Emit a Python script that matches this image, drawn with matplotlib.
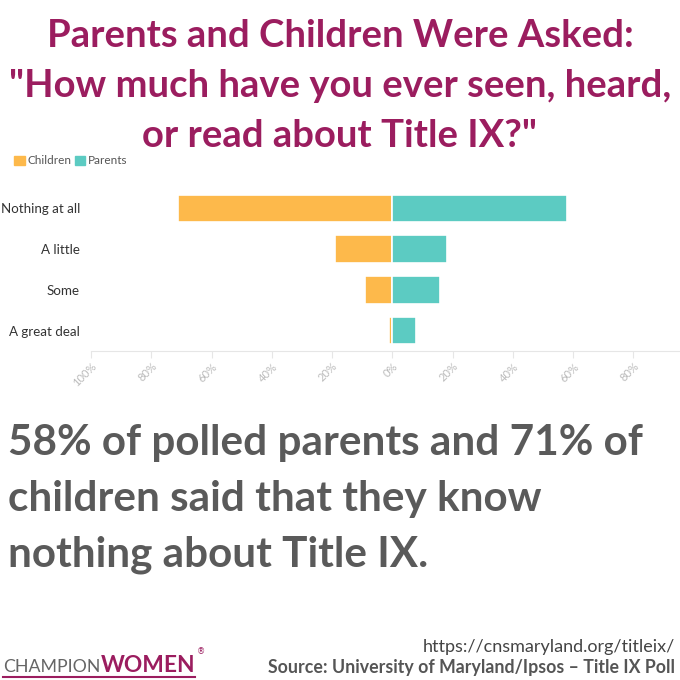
import numpy as np
import matplotlib.pyplot as plt
from matplotlib.patches import Patch

# Dane (procenty)
categories = ['Nothing at all', 'A little', 'Some', 'A great deal']
children = [71, 19, 9, 1]
parents = [58, 18, 16, 8]
ticks = [-100, -80, -60, -40, -20, 0, 20, 40, 60, 80]
tick_labels = ['100%', '80%', '60%', '40%', '20%', '0%', '20%', '40%', '60%', '80%']

purple = '#9B1D5F'
orange = '#FDB94B'
teal = '#5CCBC2'

fig = plt.figure(figsize=(6.8, 6.8), dpi=100)
fig.patch.set_facecolor('white')

def fy(px):
    return 1 - px / 680

# Tytul
title_lines = ['Parents and Children Were Asked:',
               '"How much have you ever seen, heard,',
               'or read about Title IX?"']
for line, y in zip(title_lines, [47, 97, 147]):
    fig.text(0.5, fy(y), line, ha='center', va='baseline', fontsize=27.5,
             fontweight='bold', color=purple, family='Lato')

# Wykres slupkowy
ax = fig.add_axes([91 / 680, fy(351), 589 / 680, (351 - 188) / 680])
y = np.arange(len(categories))
ax.barh(y, [-c for c in children], height=0.68, color=orange,
        edgecolor='white', linewidth=1.2, label='Children')
ax.barh(y, parents, height=0.68, color=teal,
        edgecolor='white', linewidth=1.2, label='Parents')
ax.set_xlim(-100, 95.5)
ax.set_ylim(len(categories) - 0.5, -0.5)
ax.set_yticks(y)
ax.set_yticklabels(categories, fontsize=9.6, color='#333333', family='Lato')
ax.set_xticks(ticks)
ax.set_xticklabels(tick_labels, rotation=45, fontsize=8, color='#BBBBBB',
                   ha='right', rotation_mode='anchor', family='Lato')
ax.tick_params(axis='y', length=0, pad=8)
ax.tick_params(axis='x', length=5, color='#E6E6E6', pad=2)
for s in ['top', 'right', 'left']:
    ax.spines[s].set_visible(False)
ax.spines['bottom'].set_color('#E6E6E6')

handles = [Patch(color=orange, label='Children'), Patch(color=teal, label='Parents')]
fig.legend(handles=handles, loc='center left', bbox_to_anchor=(0.005, fy(161)),
           ncol=2, frameon=False, handlelength=0.9, handleheight=0.9,
           handletextpad=0.2, columnspacing=0.3, labelcolor='#555555',
           prop={'family': 'Lato', 'size': 8.5})

# Tekst podsumowania
body = ['58% of polled parents and 71% of',
        'children said that they know',
        'nothing about Title IX.']
for line, yy in zip(body, [455, 511, 567]):
    fig.text(8 / 680, fy(yy), line, ha='left', va='baseline', fontsize=30.4,
             fontweight='bold', color='#5A5A5A', family='Lato')

# Stopka
fig.text(675 / 680, fy(652), 'https://cnsmaryland.org/titleix/', ha='right',
         va='baseline', fontsize=13, color='#444444', family='Lato')
fig.text(675 / 680, fy(673), 'Source: University of Maryland/Ipsos \u2013 Title IX Poll',
         ha='right', va='baseline', fontsize=12.8, fontweight='bold', color='#555555',
         family='Lato')

# Logo: CHAMPION + WOMEN
renderer = fig.canvas.get_renderer()
t1 = fig.text(3 / 680, fy(672), 'CHAMPION', ha='left', va='baseline', fontsize=14,
              color='#666666', family='Lato')
w1 = t1.get_window_extent(renderer).width
t1.set_fontsize(14 * 97 / w1)
w1 = t1.get_window_extent(renderer).width
t2 = fig.text((3 + w1) / 680, fy(672), 'WOMEN', ha='left', va='baseline', fontsize=14,
              fontweight='bold', color=purple, family='Lato')
w2 = t2.get_window_extent(renderer).width
t2.set_fontsize(14 * 95 / w2)
fig.text(197 / 680, fy(654), '\u00ae', ha='left', va='baseline', fontsize=6,
         color=purple)
fig.add_artist(plt.Line2D([3 / 680, 195 / 680], [fy(677), fy(677)], color=purple,
                          linewidth=1.5))

fig.savefig('out.png', dpi=100)
